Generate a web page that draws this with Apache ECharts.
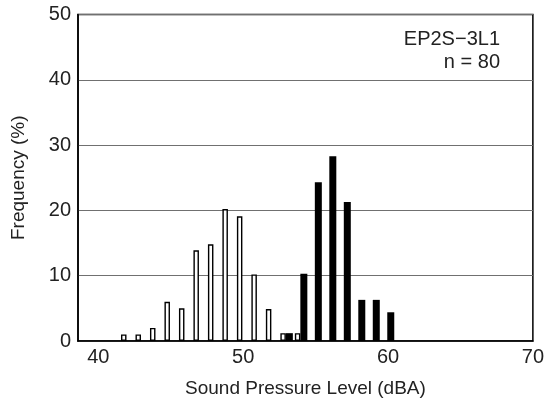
<!DOCTYPE html>
<html>
<head>
<meta charset="utf-8">
<script src="https://cdn.jsdelivr.net/npm/echarts@6/dist/echarts.min.js"></script>
<style>
html,body{margin:0;padding:0;background:#fff;}
#c{width:547px;height:410px;}
</style>
</head>
<body>
<div id="c"></div>
<script>
// Data
const openLevels = [42, 43, 44, 45, 46, 47, 48, 49, 50, 51, 52, 53, 54];
const openFreq   = [1.0, 1.0, 2.0, 6.0, 5.0, 13.9, 14.8, 20.2, 19.1, 10.2, 4.9, 1.2, 1.2];
const filledLevels = [53, 54, 55, 56, 57, 58, 59, 60];
const filledFreq   = [1.2, 10.3, 24.3, 28.3, 21.3, 6.3, 6.3, 4.4];
const xTickLabels = [40, 50, 60, 70];
const yTickLabels = [0, 10, 20, 30, 40, 50];
const annotation = ['EP2S\u22123L1', 'n = 80'];

const FONT = 'Liberation Sans, Arial, Helvetica, sans-serif';
const TXT = '#222';
const chart = echarts.init(document.getElementById('c'), null, {renderer: 'canvas'});

chart.setOption({
  animation: false,
  backgroundColor: '#fff',
  grid: {
    left: 78, top: 14.5, right: 10.3, bottom: 69,
    show: true, borderColor: '#000', borderWidth: 1.5, backgroundColor: 'transparent'
  },
  xAxis: {
    type: 'value',
    min: 38.6, max: 70,
    name: 'Sound Pressure Level (dBA)',
    nameLocation: 'middle',
    nameGap: 38,
    nameTextStyle: {fontFamily: FONT, fontSize: 19, color: TXT},
    axisLine: {show: true, lineStyle: {color: '#000', width: 1.5}},
    axisTick: {show: false},
    splitLine: {show: false},
    axisLabel: {
      customValues: xTickLabels,
      margin: 6,
      fontFamily: FONT, fontSize: 20, color: TXT
    }
  },
  yAxis: {
    type: 'value',
    min: yTickLabels[0], max: yTickLabels[yTickLabels.length - 1], interval: 10,
    name: 'Frequency (%)',
    nameLocation: 'middle',
    nameGap: 50,
    nameTextStyle: {fontFamily: FONT, fontSize: 19, color: TXT},
    axisLine: {show: true, lineStyle: {color: '#000', width: 1.5}},
    axisTick: {show: false},
    splitLine: {show: true, lineStyle: {color: '#707070', width: 1.2}},
    axisLabel: {margin: 7, fontFamily: FONT, fontSize: 20, color: TXT}
  },
  graphic: [
    {type: 'text', right: 47, top: 29,
     style: {text: annotation[0], fontFamily: FONT, fontSize: 20, fill: TXT, textAlign: 'right'}},
    {type: 'text', right: 47, top: 52,
     style: {text: annotation[1], fontFamily: FONT, fontSize: 20, fill: TXT, textAlign: 'right'}}
  ],
  series: [
    {
      type: 'bar',
      data: openLevels.map((x, i) => [x, openFreq[i]]),
      barWidth: 5.5,
      barGap: '0%',
      itemStyle: {color: '#fff', borderColor: '#000', borderWidth: 1.4}
    },
    {
      type: 'bar',
      data: filledLevels.map((x, i) => [x, filledFreq[i]]),
      barWidth: 7,
      itemStyle: {color: '#000'}
    }
  ]
});
</script>
</body>
</html>
